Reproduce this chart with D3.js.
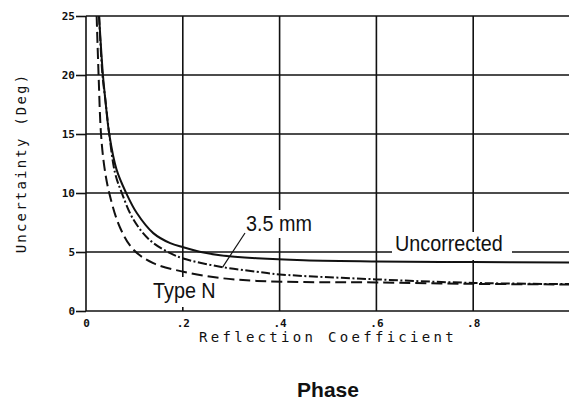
<!DOCTYPE html>
<meta charset="utf-8">
<style>
  html, body { margin: 0; padding: 0; background: #fff; }
  svg { display: block; }
  .grid line { stroke: #111; stroke-width: 1.6; }
  .axis text { font-family: "DejaVu Sans Mono", monospace; font-size: 11px; font-weight: bold; fill: #111; }
  .axis line { stroke: #111; stroke-width: 1.6; }
  .title { font-family: "DejaVu Sans Mono", monospace; font-size: 14px; fill: #111; }
  .curve { fill: none; stroke: #111; stroke-width: 2; }
  .label { font-family: "Liberation Sans", Arial, sans-serif; font-size: 22px; fill: #111; }
</style>
<div id="chart"></div>

<script src="https://cdnjs.cloudflare.com/ajax/libs/d3/7.8.5/d3.min.js"></script>
<script>
// values
var xTicks = [0, 0.2, 0.4, 0.6, 0.8];
var xTickLabels = ["0", ".2", ".4", ".6", ".8"];
var yTicks = [0, 5, 10, 15, 20, 25];

var uncorrectedX = [0.027, 0.035, 0.040, 0.048, 0.063, 0.083, 0.105, 0.139, 0.174, 0.201, 0.243, 0.277, 0.353, 0.45, 0.6, 0.8, 1.0];
var uncorrectedY = [25, 20, 17.9, 15, 12, 10, 8.3, 6.6, 5.75, 5.4, 4.95, 4.72, 4.47, 4.3, 4.2, 4.15, 4.12];

var mm35X = [0.027, 0.034, 0.040, 0.048, 0.060, 0.074, 0.098, 0.132, 0.174, 0.201, 0.277, 0.353, 0.4, 0.6, 0.8, 1.0];
var mm35Y = [25, 20, 17.9, 15, 11.7, 10, 7.75, 6.0, 4.9, 4.45, 3.75, 3.33, 3.1, 2.68, 2.38, 2.28];

var typeNX = [0.022, 0.026, 0.031, 0.038, 0.048, 0.070, 0.098, 0.139, 0.201, 0.277, 0.353, 0.45, 0.6, 0.8, 1.0];
var typeNY = [25, 20, 15, 12.2, 10, 7.1, 5.2, 4.05, 3.33, 2.8, 2.55, 2.45, 2.42, 2.3, 2.25];

var W = 569, H = 401;
var x = d3.scaleLinear().domain([0, 1]).range([86, 570]);
var y = d3.scaleLinear().domain([0, 25]).range([311, 16]);

var svg = d3.select("#chart").append("svg")
  .attr("width", W).attr("height", H);

svg.append("defs").append("clipPath").attr("id", "plot")
  .append("rect").attr("x", 86).attr("y", 16).attr("width", 484).attr("height", 295);

// grid
var grid = svg.append("g").attr("class", "grid");
grid.selectAll(".h").data(yTicks).enter().append("line")
  .attr("x1", 86).attr("x2", W)
  .attr("y1", d => y(d)).attr("y2", d => y(d));
grid.selectAll(".v").data(xTicks).enter().append("line")
  .attr("x1", d => x(d)).attr("x2", d => x(d))
  .attr("y1", y(25)).attr("y2", y(0));

// axes (labels + outward ticks on y)
svg.append("g").attr("class", "axis")
  .attr("transform", "translate(86,0)")
  .call(d3.axisLeft(y).tickValues(yTicks).tickSize(10).tickPadding(1).tickFormat(d3.format("d")))
  .call(g => g.select(".domain").remove());

svg.append("g").attr("class", "axis")
  .attr("transform", "translate(0,311)")
  .call(d3.axisBottom(x).tickValues(xTicks).tickSize(0).tickPadding(8)
    .tickFormat((d, i) => xTickLabels[i]))
  .call(g => g.select(".domain").remove());

// white boxes behind labels that break the grid
var boxes = [
  {x: 244, y: 210, w: 74, h: 28},
  {x: 392, y: 232, w: 120, h: 28},
  {x: 150, y: 277, w: 72, h: 30}
];
svg.selectAll(".box").data(boxes).enter().append("rect")
  .attr("x", d => d.x).attr("y", d => d.y)
  .attr("width", d => d.w).attr("height", d => d.h)
  .attr("fill", "#fff");

// curves
var line = d3.line()
  .x(d => x(d[0])).y(d => y(d[1]))
  .curve(d3.curveCatmullRom.alpha(0.5));

var curves = svg.append("g").attr("clip-path", "url(#plot)");
curves.append("path").attr("class", "curve")
  .attr("d", line(d3.zip(uncorrectedX, uncorrectedY)));
curves.append("path").attr("class", "curve")
  .attr("stroke-dasharray", "9,2.5,2,2.5")
  .attr("d", line(d3.zip(mm35X, mm35Y)));
curves.append("path").attr("class", "curve")
  .attr("stroke-dasharray", "11,5")
  .attr("d", line(d3.zip(typeNX, typeNY)));

// labels (slightly condensed, like the original lettering)
function label(txt, lx, ly) {
  svg.append("text").attr("class", "label")
    .attr("transform", "translate(" + lx + "," + ly + ") scale(0.9,1)")
    .text(txt);
}
label("3.5 mm", 246, 231);
svg.append("line")
  .attr("x1", 245).attr("y1", 233).attr("x2", x(0.282)).attr("y2", y(3.7))
  .attr("stroke", "#111").attr("stroke-width", 1.2);
label("Uncorrected", 395, 251);
label("Type N", 153, 298);

// titles
svg.append("text").attr("class", "title")
  .attr("transform", "translate(26,163) rotate(-90)")
  .attr("text-anchor", "middle")
  .style("letter-spacing", "2.2px")
  .text("Uncertainty (Deg)");

svg.append("text").attr("class", "title")
  .attr("x", 328).attr("y", 342)
  .attr("text-anchor", "middle")
  .style("letter-spacing", "3.3px")
  .text("Reflection Coefficient");

svg.append("text")
  .attr("x", 328).attr("y", 397)
  .attr("text-anchor", "middle")
  .style("font-family", "'Liberation Sans', Arial, sans-serif")
  .style("font-size", "21px")
  .style("font-weight", "bold")
  .style("fill", "#111")
  .text("Phase");
</script>
